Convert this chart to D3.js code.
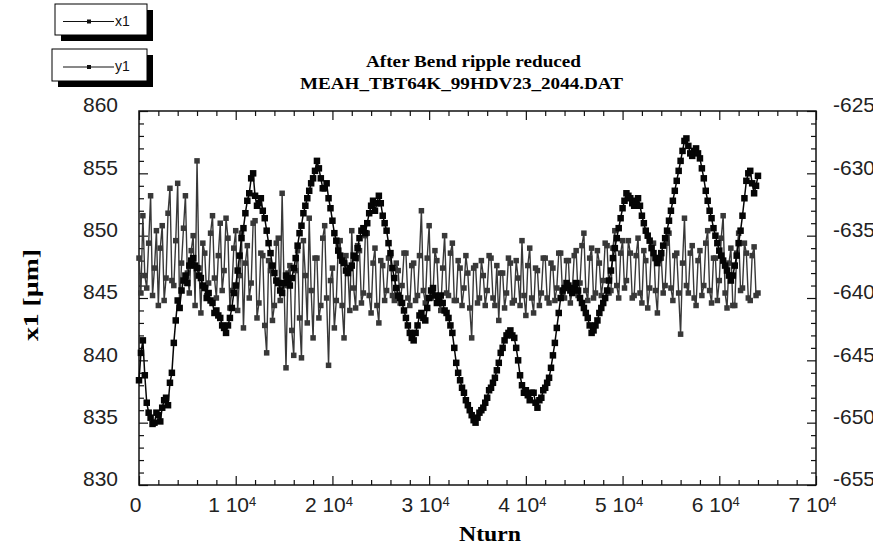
<!DOCTYPE html>
<html>
<head>
<meta charset="utf-8">
<script src="https://cdn.jsdelivr.net/npm/d3@7"></script>
<style>
  html, body { margin: 0; padding: 0; background: #ffffff; }
  svg { display: block; }
</style>
</head>
<body>
<div id="graph"></div>
<script>
// Données (un point tous les 200 tours)
const nturnStep = 200;

// série x1 (axe de gauche, µm)
const x1Values = [
  838.4, 840.6, 841.6, 838.8, 836.6, 835.8, 835.4, 834.9, 835.0, 835.8,
  835.6, 835.1, 836.2, 836.8, 837.0, 836.4, 838.2, 839.0, 841.4, 843.2,
  844.8, 844.2, 845.6, 846.4, 846.8, 846.2, 847.6, 848.0, 848.2, 847.6,
  847.4, 846.8, 846.6, 846.0, 845.8, 845.0, 845.4, 844.8, 844.6, 843.8,
  844.0, 843.6, 843.4, 842.8, 842.6, 842.2, 842.8, 843.4, 844.2, 845.4,
  846.0, 847.2, 848.4, 849.8, 850.6, 851.8, 852.8, 853.4, 854.6, 855.0,
  853.2, 852.4, 852.6, 853.0, 852.0, 851.4, 850.4, 849.4, 848.6, 847.6,
  847.0, 846.4, 846.2, 845.6, 845.4, 846.2, 846.8, 846.4, 846.0, 846.6,
  847.4, 848.2, 849.2, 850.2, 850.8, 851.8, 852.4, 853.0, 853.6, 854.2,
  854.6, 855.2, 856.0, 855.4, 854.6, 853.8, 853.8, 854.2, 853.0, 852.2,
  851.2, 850.2, 849.6, 848.8, 848.4, 848.0, 847.8, 847.2, 847.0, 847.4,
  847.6, 848.4, 848.2, 849.0, 849.8, 850.4, 850.6, 850.2, 851.0, 851.8,
  852.4, 852.8, 852.0, 852.6, 853.2, 852.6, 851.6, 851.0, 850.4, 849.4,
  848.6, 847.4, 846.6, 845.8, 845.2, 845.0, 844.6, 844.0, 843.4, 842.8,
  842.2, 841.8, 841.6, 842.2, 842.8, 843.6, 843.8, 843.4, 843.2, 844.2,
  845.0, 845.6, 845.8, 845.2, 844.6, 845.0, 845.2, 844.6, 844.0, 843.8,
  843.4, 842.8, 842.2, 841.0, 839.8, 839.0, 838.4, 837.8, 837.4, 836.8,
  836.4, 836.0, 835.6, 835.2, 835.0, 835.4, 835.8, 836.0, 836.2, 836.6,
  837.0, 837.6, 837.8, 838.2, 838.6, 839.2, 839.8, 840.6, 841.0, 841.6,
  842.0, 842.2, 842.4, 842.0, 841.8, 841.0, 840.0, 838.8, 838.0, 837.4,
  837.6, 837.2, 836.8, 837.4, 837.4, 836.6, 836.2, 836.8, 837.0, 837.6,
  837.8, 838.2, 838.6, 839.4, 840.4, 841.4, 842.6, 843.8, 845.0, 845.6,
  845.8, 846.2, 846.0, 845.6, 845.4, 845.8, 846.2, 845.6, 845.0, 844.6,
  844.2, 843.8, 843.4, 842.8, 842.2, 842.4, 842.8, 843.2, 843.8, 844.2,
  844.6, 845.0, 845.6, 846.4, 847.2, 848.2, 849.0, 849.8, 850.6, 851.4,
  852.2, 852.8, 853.4, 853.2, 853.0, 852.6, 852.4, 852.8, 853.0, 852.4,
  851.6, 851.0, 850.4, 850.0, 849.6, 849.0, 848.6, 848.2, 847.8, 848.2,
  848.6, 849.2, 849.8, 850.4, 851.2, 852.0, 852.8, 853.6, 854.4, 855.2,
  856.0, 856.8, 857.6, 857.8, 857.2, 856.6, 856.4, 856.8, 857.0, 856.6,
  856.2, 855.4, 854.6, 853.6, 852.8, 852.0, 851.4, 850.6, 850.0, 849.4,
  848.8, 848.4, 848.0, 847.6, 847.2, 846.8, 846.4, 846.8, 847.6, 848.4,
  849.4, 850.4, 851.6, 853.0, 854.4, 855.0, 855.2, 854.2, 853.4, 854.0,
  854.8
];

// série y1 (axe de droite)
const y1Values = [
  -636.8, -639.6, -633.4, -638.2, -639.2, -635.6, -631.8, -639.8, -637.6, -634.6,
  -640.6, -636.0, -634.2, -640.2, -638.4, -633.2, -631.2, -638.6, -639.0, -635.4,
  -630.8, -640.8, -637.2, -634.4, -631.8, -638.0, -639.6, -636.2, -635.0, -640.6,
  -629.0, -637.6, -641.2, -635.6, -636.4, -639.8, -638.8, -634.8, -633.4, -638.4,
  -640.0, -636.6, -634.0, -639.4, -637.8, -633.6, -635.2, -640.8, -639.4, -636.0,
  -634.6, -641.0, -638.2, -634.8, -642.4, -637.2, -635.8, -640.0, -638.8, -634.0,
  -633.8, -641.6, -640.4, -636.4, -636.6, -642.2, -644.4, -637.0, -637.8, -641.8,
  -640.6, -635.6, -635.2, -640.2, -631.6, -639.0, -645.6, -638.0, -637.4, -642.6,
  -644.6, -637.8, -636.2, -641.6, -644.8, -635.4, -638.2, -642.0, -633.6, -639.4,
  -643.2, -636.8, -636.8, -641.6, -640.6, -635.2, -634.2, -640.0, -645.4, -638.6,
  -637.6, -642.4, -640.2, -635.8, -635.4, -640.6, -643.2, -636.6, -637.8, -641.0,
  -634.6, -639.2, -640.8, -635.8, -636.2, -640.4, -639.6, -635.0, -634.8, -639.8,
  -641.2, -637.2, -636.0, -640.6, -642.0, -637.0, -637.4, -640.2, -639.4, -636.8,
  -636.6, -639.8, -640.2, -637.2, -637.8, -640.4, -639.0, -636.4, -636.4, -640.0,
  -640.6, -637.4, -637.2, -640.2, -639.8, -636.6, -633.0, -639.4, -640.4, -636.8,
  -634.2, -640.0, -639.6, -636.2, -637.0, -640.4, -641.0, -637.6, -635.0, -639.6,
  -639.8, -636.4, -635.6, -640.2, -640.2, -637.0, -637.6, -640.6, -639.2, -636.6,
  -638.0, -640.8, -643.2, -637.6, -637.4, -640.4, -640.0, -637.0, -638.2, -640.6,
  -639.4, -636.6, -636.8, -640.0, -640.6, -637.4, -641.8, -638.0, -638.0, -640.8,
  -639.6, -636.8, -637.2, -640.4, -640.2, -637.0, -638.4, -640.6, -635.4, -639.8,
  -641.4, -637.4, -636.0, -640.0, -641.2, -637.6, -637.8, -640.6, -639.6, -636.8,
  -636.8, -640.0, -640.4, -637.2, -637.6, -640.2, -639.2, -636.4, -636.4, -639.8,
  -640.0, -637.0, -637.0, -640.4, -639.4, -636.6, -636.2, -639.8, -638.8, -635.8,
  -634.8, -639.4, -640.2, -636.8, -636.0, -640.0, -639.6, -636.2, -637.2, -639.8,
  -638.6, -635.6, -635.8, -639.6, -639.4, -636.0, -634.6, -639.0, -640.0, -636.4,
  -635.4, -639.2, -638.6, -635.4, -636.4, -640.0, -639.8, -636.6, -635.2, -639.6,
  -640.4, -636.2, -637.0, -640.8, -639.2, -635.8, -635.6, -639.4, -641.2, -637.0,
  -636.8, -639.6, -639.0, -635.6, -634.8, -639.2, -640.2, -636.6, -636.4, -639.6,
  -642.9, -637.2, -633.6, -639.0, -639.6, -636.4, -635.8, -640.0, -640.6, -637.0,
  -636.2, -639.8, -639.0, -635.6, -634.6, -639.4, -640.4, -636.8, -636.8, -640.2,
  -638.6, -635.2, -633.4, -639.6, -640.8, -637.2, -636.0, -640.6, -640.6, -636.4,
  -634.8, -639.4, -639.2, -635.6, -636.4, -640.0, -640.2, -636.6, -635.9, -639.8,
  -639.6
];

// graduations
const leftTicks = [830, 835, 840, 845, 850, 855, 860];
const rightTicks = [-655, -650, -645, -640, -635, -630, -625];
const bottomTicks = [0, 10000, 20000, 30000, 40000, 50000, 60000, 70000];
const legendLabels = ["x1", "y1"];
const titleLines = ["After Bend ripple reduced", "MEAH_TBT64K_99HDV23_2044.DAT"];
const yLabel = "x1  [µm]";
const xLabel = "Nturn";

//---------------------------------------------------------------------------------------

// Canevas
const width = 873;
const height = 550;
const plot = { left: 139, right: 816, top: 111, bottom: 485 };

const svg = d3.select("#graph")
  .append("svg")
  .attr("width", width)
  .attr("height", height)
  .attr("viewBox", [0, 0, width, height]);

const sans = "'Liberation Sans', Arial, sans-serif";
const serif = "'Liberation Serif', 'Times New Roman', serif";

//---------------------------------------------------------------------------------------

// Échelles
const scaleX = d3.scaleLinear().domain([0, 70000]).range([plot.left, plot.right]);
const scaleYL = d3.scaleLinear().domain([830, 860]).range([plot.bottom, plot.top]);
const scaleYR = d3.scaleLinear().domain([-655, -625]).range([plot.bottom, plot.top]);

const x1Data = x1Values.map((v, i) => ({ n: i * nturnStep, v: v }));
const y1Data = y1Values.map((v, i) => ({ n: i * nturnStep, v: v }));

//---------------------------------------------------------------------------------------

// Axes (graduations vers l'intérieur)
const minorL = d3.range(830, 861, 1).filter(d => d % 5 !== 0);
const minorR = d3.range(-655, -624, 1).filter(d => d % 5 !== 0);
const minorX = d3.range(0, 70001, 2000).filter(d => d % 10000 !== 0);

const styleAxis = g => {
  g.select(".domain").remove();
  g.selectAll(".tick line").attr("stroke", "#111").attr("stroke-width", 1.2);
};

// gauche
svg.append("g")
  .attr("transform", `translate(${plot.left},0)`)
  .call(d3.axisLeft(scaleYL).tickValues(leftTicks).tickSize(-9).tickPadding(21))
  .call(styleAxis)
  .selectAll("text")
  .attr("dy", "0.04em")
  .style("font-family", sans)
  .style("font-size", "21px")
  .style("fill", "#222");

svg.append("g")
  .attr("transform", `translate(${plot.left},0)`)
  .call(d3.axisLeft(scaleYL).tickValues(minorL).tickSize(-5).tickFormat(""))
  .call(styleAxis);

// droite (signe moins en trait d'union, comme sur l'original)
svg.append("g")
  .attr("transform", `translate(${plot.right},0)`)
  .call(d3.axisRight(scaleYR).tickValues(rightTicks).tickSize(-9).tickPadding(17).tickFormat(d => String(d)))
  .call(styleAxis)
  .selectAll("text")
  .attr("dy", "0.04em")
  .style("font-family", sans)
  .style("font-size", "21px")
  .style("fill", "#222");

svg.append("g")
  .attr("transform", `translate(${plot.right},0)`)
  .call(d3.axisRight(scaleYR).tickValues(minorR).tickSize(-5).tickFormat(""))
  .call(styleAxis);

// bas
const xAxisG = svg.append("g")
  .attr("transform", `translate(0,${plot.bottom})`)
  .call(d3.axisBottom(scaleX).tickValues(bottomTicks).tickSize(-9).tickPadding(12).tickFormat(""))
  .call(styleAxis);

xAxisG.selectAll(".tick text")
  .attr("x", -4)
  .style("font-family", sans)
  .style("font-size", "21px")
  .style("fill", "#222")
  .each(function (d) {
    const t = d3.select(this);
    if (d === 0) {
      t.text("0");
    } else {
      t.append("tspan").text(`${d / 10000} 10`);
      t.append("tspan").attr("dy", "-0.45em").style("font-size", "13px").text("4");
    }
  });

svg.append("g")
  .attr("transform", `translate(0,${plot.bottom})`)
  .call(d3.axisBottom(scaleX).tickValues(minorX).tickSize(-5).tickFormat(""))
  .call(styleAxis);

// haut
svg.append("g")
  .attr("transform", `translate(0,${plot.top})`)
  .call(d3.axisTop(scaleX).tickValues(bottomTicks).tickSize(-9).tickFormat(""))
  .call(styleAxis);

svg.append("g")
  .attr("transform", `translate(0,${plot.top})`)
  .call(d3.axisTop(scaleX).tickValues(minorX).tickSize(-5).tickFormat(""))
  .call(styleAxis);

// cadre
svg.append("rect")
  .attr("x", plot.left)
  .attr("y", plot.top)
  .attr("width", plot.right - plot.left)
  .attr("height", plot.bottom - plot.top)
  .attr("fill", "none")
  .attr("stroke", "#111")
  .attr("stroke-width", 1.5);

//---------------------------------------------------------------------------------------

// Séries : ligne + marqueurs carrés
const drawSeries = (data, scaleY, col, size, lw) => {
  const line = d3.line()
    .x(d => scaleX(d.n))
    .y(d => scaleY(d.v));

  const g = svg.append("g");

  g.append("path")
    .attr("d", line(data))
    .attr("fill", "none")
    .attr("stroke", col)
    .attr("stroke-width", lw);

  g.selectAll("rect")
    .data(data)
    .join("rect")
    .attr("x", d => scaleX(d.n) - size / 2)
    .attr("y", d => scaleY(d.v) - size / 2)
    .attr("width", size)
    .attr("height", size)
    .attr("fill", col);
};

drawSeries(y1Data, scaleYR, "#383838", 5.5, 1.4);
drawSeries(x1Data, scaleYL, "#050505", 6.5, 1.5);

//---------------------------------------------------------------------------------------

// Titres
svg.append("text")
  .attr("x", 366)
  .attr("y", 67)
  .attr("textLength", 215)
  .attr("lengthAdjust", "spacingAndGlyphs")
  .style("font-family", serif)
  .style("font-weight", "bold")
  .style("font-size", "16px")
  .text(titleLines[0]);

svg.append("text")
  .attr("x", 300)
  .attr("y", 89)
  .attr("textLength", 323)
  .attr("lengthAdjust", "spacingAndGlyphs")
  .style("font-family", serif)
  .style("font-weight", "bold")
  .style("font-size", "16px")
  .text(titleLines[1]);

// titre axe Y
svg.append("text")
  .attr("transform", "translate(38,295) rotate(-90)")
  .attr("text-anchor", "middle")
  .attr("textLength", 92)
  .attr("lengthAdjust", "spacingAndGlyphs")
  .style("font-family", serif)
  .style("font-weight", "bold")
  .style("font-size", "22px")
  .text(yLabel);

// titre axe X
svg.append("text")
  .attr("x", 490)
  .attr("y", 541)
  .attr("text-anchor", "middle")
  .attr("textLength", 62)
  .attr("lengthAdjust", "spacingAndGlyphs")
  .style("font-family", serif)
  .style("font-weight", "bold")
  .style("font-size", "22px")
  .text(xLabel);

//---------------------------------------------------------------------------------------

// Légende : deux boîtes avec ombre portée
const legendBoxes = [
  { x: 55, y: 4, w: 92, h: 31 },
  { x: 52, y: 49, w: 95, h: 32 },
];

const legend = svg.selectAll(".legend")
  .data(legendLabels)
  .join("g")
  .attr("class", "legend")
  .attr("transform", (d, i) => `translate(${legendBoxes[i].x},${legendBoxes[i].y})`);

legend.append("rect")
  .attr("x", 6)
  .attr("y", 6)
  .attr("width", (d, i) => legendBoxes[i].w)
  .attr("height", (d, i) => legendBoxes[i].h)
  .attr("fill", "#000");

legend.append("rect")
  .attr("width", (d, i) => legendBoxes[i].w)
  .attr("height", (d, i) => legendBoxes[i].h)
  .attr("fill", "#fff")
  .attr("stroke", "#000")
  .attr("stroke-width", 1);

legend.append("line")
  .attr("x1", (d, i) => legendBoxes[i].w - 84)
  .attr("x2", (d, i) => legendBoxes[i].w - 33)
  .attr("y1", (d, i) => legendBoxes[i].h / 2 + 2)
  .attr("y2", (d, i) => legendBoxes[i].h / 2 + 2)
  .attr("stroke", "#111")
  .attr("stroke-width", 1);

legend.append("rect")
  .attr("x", (d, i) => legendBoxes[i].w - 60)
  .attr("y", (d, i) => legendBoxes[i].h / 2)
  .attr("width", 4)
  .attr("height", 4)
  .attr("fill", "#111");

legend.append("text")
  .attr("x", (d, i) => legendBoxes[i].w - 32)
  .attr("y", (d, i) => legendBoxes[i].h / 2 + 6)
  .style("font-family", sans)
  .style("font-size", "14px")
  .style("fill", "#111")
  .text(d => d);
</script>
</body>
</html>
